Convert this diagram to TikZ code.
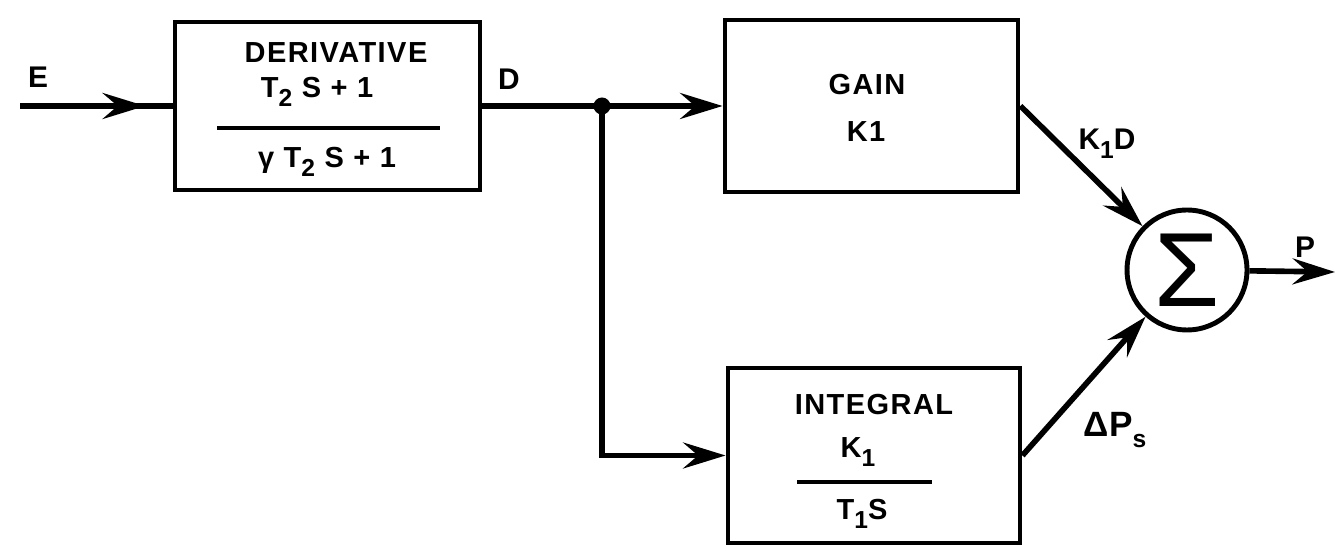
\documentclass[tikz,border=0pt]{standalone}
\usepackage{fontspec}
\setmainfont{Liberation Sans}
\newfontfamily\blkfont[LetterSpace=5]{Liberation Sans}
\usetikzlibrary{arrows.meta,decorations.markings}
\newcommand\lo[1]{\raisebox{-0.55ex}{\fontsize{14}{14}\selectfont #1}}
\tikzset{
  blk/.style={draw,line width=2.8pt,inner sep=0pt},
  txt/.style={font=\blkfont\bfseries\fontsize{16.5}{19}\selectfont,inner sep=0pt,anchor=base},
  lbl/.style={font=\bfseries\fontsize{17}{20}\selectfont,inner sep=0pt,anchor=base},
  wire/.style={line width=3.2pt},
  bar/.style={line width=2.4pt},
  sig/.style={wire,-{Stealth[length=0.85cm,width=0.52cm,inset=0.3cm]}},
  midsig/.style={wire,postaction={decorate},
    decoration={markings,mark=at position #1 with {\arrow{Stealth[length=0.85cm,width=0.52cm,inset=0.3cm]}}}},
}
\begin{document}
\begin{tikzpicture}[x=0.02cm,y=-0.02cm]
\useasboundingbox (0,0) rectangle (1335,546);
\node[blk,minimum width=6.1cm,minimum height=3.36cm] (deriv) at (327.5,106) {};
\node[blk,minimum width=5.86cm,minimum height=3.44cm] (gain) at (871.5,106) {};
\node[blk,minimum width=5.84cm,minimum height=3.5cm] (integ) at (874,455.5) {};
\node[blk,circle,minimum size=2.4cm,font=\fontsize{60}{60}\selectfont] (sum) at (1187,270) {Σ};

\node[txt] (dname) at (336,63) {DERIVATIVE};
\node[txt] (dnum) at (317,98) {T\lo{2} S + 1};
\draw[bar] (217,128) -- (440,128);
\node[txt] (dden) at (327,168) {γ T\lo{2} S + 1};

\node[txt] (gname) at (867,95) {GAIN};
\node[txt] (gval) at (866,142) {K1};

\node[txt] (iname) at (874,415) {INTEGRAL};
\node[txt] (inum) at (858,458) {K\lo{1}};
\draw[bar] (797,482) -- (932,482);
\node[txt] (iden) at (862,520) {T\lo{1}S};

\coordinate (in) at (20,106);
\coordinate (jn) at (602,106);
\coordinate (out) at (1335,272);
\draw[midsig=0.82] (in) -- (deriv.west);
\draw[sig] (deriv.east) -- (gain.west);
\fill (jn) circle (0.17cm);
\draw[sig] (jn) |- (integ.west);
\draw[sig] (gain.east) -- (sum);
\draw[sig] (integ.east) -- (sum);
\draw[sig] (sum) -- (out);

\node[lbl] (e) at (38,88) {E};
\node[lbl] (d) at (509,90) {D};
\node[lbl] (k1d) at (1107,150) {K\lo{1}D};
\node[lbl] (p) at (1305,258) {P};
\node[lbl,font=\bfseries\fontsize{20}{22}\selectfont] (dps) at (1115,437) {ΔP\lo{s}};
\end{tikzpicture}
\end{document}
